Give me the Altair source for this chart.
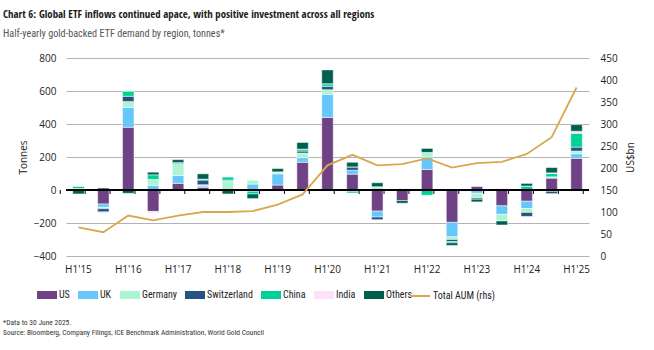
import altair as alt
import pandas as pd

periods = ["H1'15", "H2'15", "H1'16", "H2'16", "H1'17", "H2'17", "H1'18", "H2'18",
           "H1'19", "H2'19", "H1'20", "H2'20", "H1'21", "H2'21", "H1'22", "H2'22",
           "H1'23", "H2'23", "H1'24", "H2'24", "H1'25"]
us = [-2, -85, 380, -130, 40, 16, 0, 0, 30, 168, 440, 96, -128, -64, 124, -196, 24, -96, -68, 72, 192]
uk = [3, -20, 120, 28, 48, 8, 0, 36, 68, 28, 140, 24, -36, 0, 76, -88, -20, -52, -44, -8, 28]
germany = [6, -8, 36, 36, 72, 8, 56, 24, 12, 28, 28, -8, 20, 0, 28, -16, -28, -40, -24, 8, 16]
switzerland = [0, -20, 32, 0, 6, 28, 4, -8, 0, 12, 20, 20, -16, 0, 0, -12, -8, 0, -24, -14, 24]
china = [14, 0, 32, 28, 0, 6, 20, -16, 0, 12, 16, -10, 0, 4, -32, -8, 0, 0, 24, 20, 84]
india = [0, -10, 0, -12, -5, 0, 0, 0, -6, 0, 0, 0, 0, 6, 0, 0, 0, 10, 0, 4, 12]
others = [-22, 12, -20, 16, 18, 32, -24, -28, 20, 40, 84, 28, 24, -16, 24, -16, -16, -24, 16, 32, 40]
aum = [65, 54, 92, 81, 92, 100, 100, 102, 117, 140, 206, 230, 206, 209, 222, 201, 211, 214, 232, 270, 383]

regions = ["US", "UK", "Germany", "Switzerland", "China", "India", "Others"]
region_values = [us, uk, germany, switzerland, china, india, others]
colors = ["#6F4285", "#66C7FA", "#ABF5D2", "#245582", "#00D199", "#FDE1FB", "#00604F"]
line_name = "Total AUM (rhs)"
gold = "#D9A84E"

title_text = "Chart 6: Global ETF inflows continued apace, with positive investment across all regions"
subtitle_text = "Half-yearly gold-backed ETF demand by region, tonnes*"
notes = ["*Data to 30 June 2025.",
         "Source: Bloomberg, Company Filings, ICE Benchmark Administration, World Gold Council"]

rows = []
for k, (name, vals) in enumerate(zip(regions, region_values)):
    for i, p in enumerate(periods):
        rows.append({"period": p, "region": name, "order": k, "tonnes": vals[i]})
df = pd.DataFrame(rows)
ldf = pd.DataFrame({"period": periods, "aum": aum, "series": [line_name] * len(periods)})
tick_df = pd.DataFrame({"period": periods})
end_df = pd.DataFrame({"period": [periods[-1]]})
note_df = pd.DataFrame({"note": ["\n".join(notes)]})

BOLDN = ("'Liberation Sans Narrow', 'Arial Narrow', 'Noto Sans Condensed', "
         "'Open Sans Condensed', 'Roboto Condensed', 'DejaVu Sans Condensed', "
         "'Nimbus Sans Narrow', 'Liberation Sans'")
REGN = ("'Noto Sans Condensed', 'Roboto Condensed', 'Nimbus Sans Narrow', "
        "'Arial Narrow', 'Liberation Sans'")
AXF = "Open Sans"
TXT = "#222222"
STEP = 523 / len(periods)

xscale = alt.Scale(domain=periods, paddingInner=0.54, paddingOuter=0.27)
yscale = alt.Scale(domain=[-400, 800], nice=False)

x_axis = alt.Axis(title=None, values=periods[::2], labelAngle=0, ticks=False,
                  domain=False, labelPadding=8, labelFont=AXF, labelFontSize=10,
                  labelColor=TXT)
y_axis = alt.Axis(values=list(range(-400, 801, 200)), title="Tonnes", grid=True,
                  gridColor="#b3b3b3", gridWidth=1, ticks=False, domain=False,
                  labelOverlap=False, labelPadding=10, labelFont=AXF, labelFontSize=10,
                  labelColor=TXT, titleFont=AXF, titleFontSize=10,
                  titleFontWeight="normal", titleColor=TXT, titlePadding=5)

bars = alt.Chart(df).mark_bar(stroke="white", strokeWidth=0.6, strokeOpacity=0.8).encode(
    x=alt.X("period:N", sort=periods, scale=xscale, axis=x_axis),
    y=alt.Y("tonnes:Q", stack="zero", scale=yscale, axis=y_axis, title="Tonnes"),
    color=alt.Color("region:N", scale=alt.Scale(domain=regions, range=colors),
                    legend=alt.Legend(orient="none", legendX=-29, legendY=227,
                                      direction="horizontal", title=None,
                                      symbolType="M-1,-0.4H1V0.4H-1Z", symbolSize=400,
                                      symbolStrokeWidth=0, labelOffset=2, columnPadding=8,
                                      labelFont=REGN, labelFontSize=10, labelColor=TXT)),
    order=alt.Order("order:Q", sort="ascending"),
)

zero = alt.Chart(tick_df).mark_rule(color="black", strokeWidth=1).encode(
    y=alt.YDatum(0, axis=y_axis, scale=yscale, title="Tonnes"))

ticks = alt.Chart(tick_df).mark_rule(color="black", strokeWidth=1).encode(
    x=alt.X("period:N", sort=periods, scale=xscale, axis=x_axis),
    xOffset=alt.value(-STEP / 2),
    y=alt.YDatum(0, axis=y_axis, scale=yscale, title="Tonnes"), y2=alt.Y2Datum(-24),
)
tick_end = alt.Chart(end_df).mark_rule(color="black", strokeWidth=1).encode(
    x=alt.X("period:N", sort=periods, scale=xscale, axis=x_axis),
    xOffset=alt.value(STEP / 2),
    y=alt.YDatum(0, axis=y_axis, scale=yscale, title="Tonnes"), y2=alt.Y2Datum(-24),
)

note_text = alt.Chart(note_df).mark_text(
    align="left", baseline="top", lineBreak="\n", lineHeight=10, font=REGN,
    fontSize=7.5, color="#333333",
).encode(text="note:N", x=alt.value(-63), y=alt.value(261))

left = alt.layer(bars, zero, ticks, tick_end, note_text)

line = alt.Chart(ldf).mark_line(strokeWidth=1.8).encode(
    x=alt.X("period:N", sort=periods, scale=xscale, axis=x_axis),
    y=alt.Y("aum:Q", scale=alt.Scale(domain=[0, 450], nice=False),
            axis=alt.Axis(orient="right", values=list(range(0, 451, 50)), title="US$bn",
                          grid=False, ticks=False, domain=False, labelPadding=11,
                          labelOverlap=False,
                          labelFont=AXF, labelFontSize=10, labelColor=TXT,
                          titleFont=AXF, titleFontSize=10, titleFontWeight="normal",
                          titleColor=TXT, titlePadding=8, titleAngle=-90,
                          titleBaseline="top")),
    stroke=alt.Stroke("series:N", scale=alt.Scale(domain=[line_name], range=[gold]),
                      legend=alt.Legend(orient="none", legendX=343, legendY=227, title=None,
                                        symbolType="stroke", symbolSize=400,
                                        symbolStrokeWidth=2, labelOffset=2,
                                        labelFont=REGN, labelFontSize=10,
                                        labelColor=TXT)),
)

chart = alt.layer(left, line).resolve_scale(y="independent").properties(
    width=523, height=198,
    padding={"left": 66, "top": 58, "right": 65, "bottom": 94},
    autosize=alt.AutoSizeParams(type="none"),
    title=alt.TitleParams(
        text=title_text, subtitle=subtitle_text, anchor="start", frame="group", dx=-63,
        offset=14,
        font=BOLDN, fontSize=10.8, fontWeight="bold", color="#1a1a1a",
        subtitleFont=REGN, subtitleFontSize=10.2, subtitleFontWeight="normal",
        subtitleColor="#555555", subtitlePadding=9,
    ),
).configure_view(stroke=None)

chart.save("out.html", embed_options={"renderer": "svg", "actions": False})
